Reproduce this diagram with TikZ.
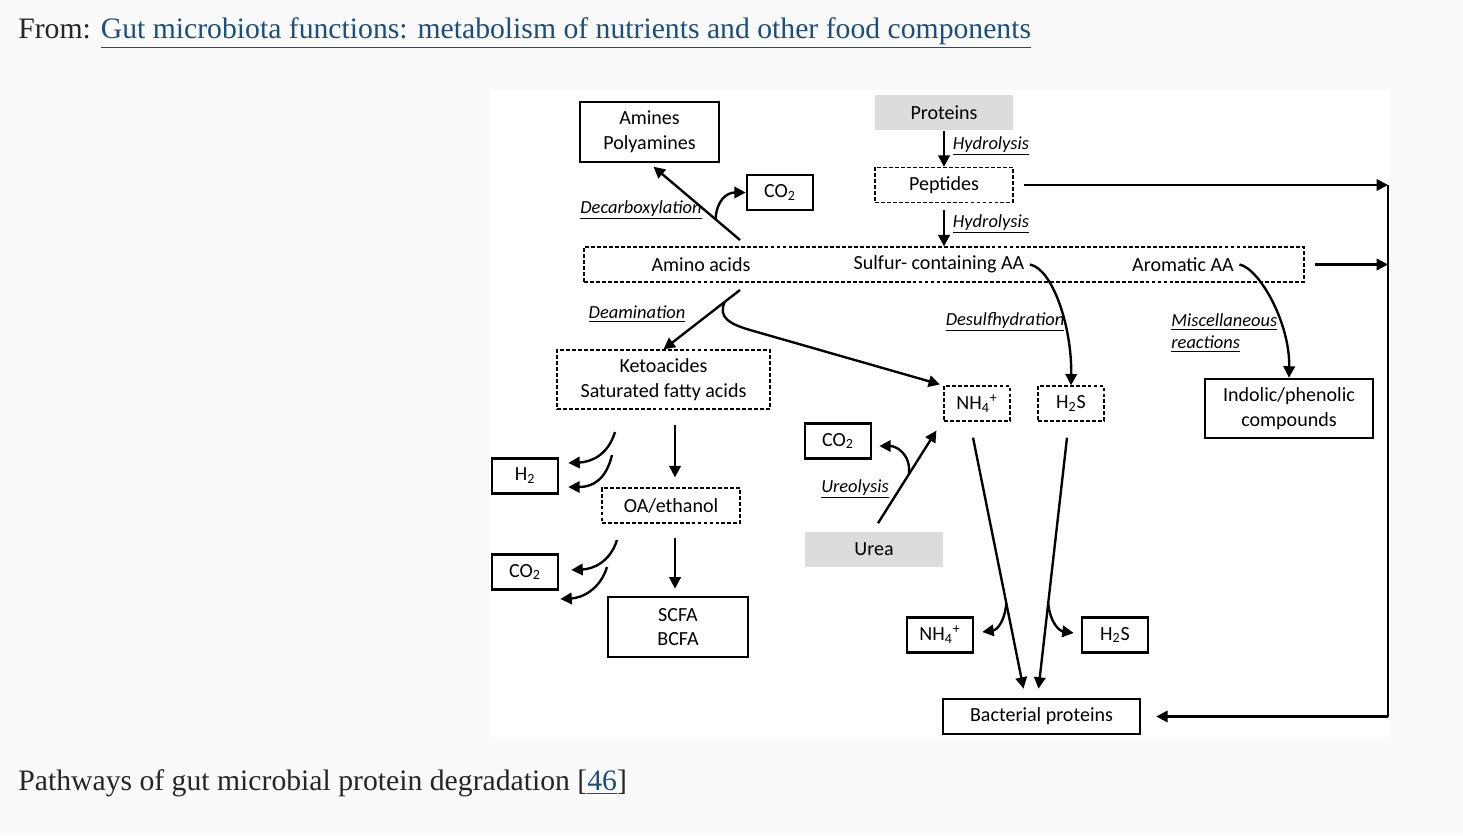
\documentclass[tikz,border=0pt]{standalone}
\usepackage{fontspec}
\setmainfont{Liberation Serif}
\newfontfamily\diagfont{Carlito}
\usetikzlibrary{arrows.meta,calc,positioning}
\definecolor{linkblue}{HTML}{1F4E79}
\definecolor{pagegray}{HTML}{FAFAFA}
\definecolor{boxgray}{HTML}{DCDCDC}

\begin{document}
\begin{tikzpicture}[x=0.02cm,y=-0.02cm,
  box/.style={draw,line width=1.5pt,inner sep=0pt,align=center,
    font=\diagfont\fontsize{11.4}{14}\selectfont},
  solidbox/.style={box},
  dashbox/.style={box,line width=0.7pt,dash pattern=on 2.2pt off 1.2pt},
  greybox/.style={box,draw=none,fill=boxgray},
  unitsz/.style={minimum width=1.32cm,minimum height=0.7cm},
  widesz/.style={minimum width=2.76cm,minimum height=0.7cm},
  txt/.style={inner sep=0pt,font=\diagfont\fontsize{11.4}{14}\selectfont},
  rxn/.style={inner sep=0pt,font=\diagfont\itshape\fontsize{10.5}{12.5}\selectfont},
  arr/.style={line width=1.35pt,-{Triangle[length=6.5pt,width=6.5pt]}},
  ]
% page and figure background
\fill[pagegray] (0,0) rectangle (1463,835);
\fill[white] (490,90) rectangle (1390,738);
\useasboundingbox (0,0) rectangle (1463,835);

% header and caption
\node[anchor=west,inner sep=0pt,font=\fontsize{16.9}{19}\selectfont,text=black!85] (title) at (18,33)
  {From: \textcolor{linkblue}{\underline{Gut microbiota functions: metabolism of nutrients and other food components}}};
\node[anchor=west,inner sep=0pt,font=\fontsize{16.9}{19}\selectfont,text=black!85] (caption) at (18,783)
  {Pathways of gut microbial protein degradation [\textcolor{linkblue}{\underline{46}}]};

% boxes
\node[solidbox,minimum width=2.78cm,minimum height=1.2cm] (amines) at (649.5,132) {Amines\\Polyamines};
\node[solidbox,unitsz] (co2a) at (780,192.5) {CO\textsubscript{2}};
\node[greybox,widesz] (prot) at (944,112.5) {Proteins};
\node[dashbox,widesz] (pep) at (944,185) {Peptides};
\node[dashbox,minimum width=14.4cm,minimum height=0.7cm] (aa) at (944,264.5) {};
\node[txt] (amino) at (701,264.5) {Amino acids};
\node[txt] (sulf) at (939,264.5) {Sulfur- containing AA};
\node[txt] (arom) at (1183,264.5) {Aromatic AA};
\node[dashbox,minimum width=4.26cm,minimum height=1.18cm] (keto) at (663.5,379.5) {Ketoacides\\Saturated fatty acids};
\node[dashbox,unitsz] (nhd) at (977,403.5) {NH\textsubscript{4}\textsuperscript{+}};
\node[dashbox,unitsz] (hsd) at (1071,403.5) {H\textsubscript{2}S};
\node[solidbox,minimum width=3.36cm,minimum height=1.18cm] (indol) at (1289,408.5) {Indolic/phenolic\\compounds};
\node[solidbox,unitsz] (co2b) at (838,441) {CO\textsubscript{2}};
\node[solidbox,unitsz] (htwo) at (525,476) {H\textsubscript{2}};
\node[dashbox,widesz] (oa) at (671,505.5) {OA/ethanol};
\node[solidbox,unitsz] (co2c) at (525,572) {CO\textsubscript{2}};
\node[greybox,widesz] (urea) at (874,549) {Urea};
\node[solidbox,minimum width=2.8cm,minimum height=1.2cm] (scfa) at (678,627) {SCFA\\BCFA};
\node[solidbox,unitsz] (nhs) at (940,635) {NH\textsubscript{4}\textsuperscript{+}};
\node[solidbox,unitsz] (hss) at (1115,635) {H\textsubscript{2}S};
\node[solidbox,minimum width=3.94cm,minimum height=0.7cm] (bact) at (1041.5,716.5) {Bacterial proteins};

% reaction labels
\node[rxn] (hyd1) at (991,146) {\underline{Hydrolysis}};
\node[rxn] (hyd2) at (991,224) {\underline{Hydrolysis}};
\node[rxn] (decarb) at (641,210) {\underline{Decarboxylation}};
\node[rxn] (deam) at (637,314) {\underline{Deamination}};
\node[rxn] (desulf) at (1005,322) {\underline{Desulfhydration}};
\node[rxn,anchor=west,align=left] (misc) at (1171,333) {\underline{Miscellaneous}\\\underline{reactions}};
\node[rxn] (ureo) at (855,489) {\underline{Ureolysis}};

% free ends
\coordinate (rx) at (1388,0);
\coordinate (dcs) at (740,240);
\coordinate (dms) at (740,290);
\coordinate (dmk) at (750,330);
\coordinate (kx) at (675,0);
\coordinate (h1s) at (615,432);
\coordinate (h2s) at (612,455);
\coordinate (c1s) at (617,540);
\coordinate (c2s) at (607,567);

% hydrolysis
\draw[arr] (prot) -- (pep);
\draw[arr,shorten <=4pt] (pep) -- (aa);
\draw[arr,shorten <=6pt] (pep.east) -- (pep.east -| rx);
\draw[arr,shorten <=6pt] (aa.east) -- (aa.east -| rx);
\draw[line width=1.5pt] (pep.east -| rx) -- (bact.east -| rx);
\draw[arr,shorten >=8.5pt] (bact.east -| rx) -- (bact.east);

% decarboxylation and deamination
\draw[arr,shorten >=3pt] (dcs) -- (amines.south);
\draw[arr] ($(dcs)!0.27!(amines.south)$) .. controls +(1,-19) and +(-19,0) .. (co2a.west);
\draw[arr] (dms) -- (keto.north);
\draw[arr,shorten >=2pt] ($(dms)!0.2!(keto.north)$) .. controls +(-7,16) and +(-20,-6) .. (dmk) -- (nhd.north west);

% sulfur and aromatic AA
\draw[arr] ([xshift=3pt]sulf.east) .. controls +(22,4) and +(1,-60) .. (hsd.north);
\draw[arr] ([xshift=3pt]arom.east) .. controls +(20,4) and +(1,-55) .. (indol.north);

% fermentation chain
\draw[arr,shorten <=9pt,shorten >=5.7pt] (keto.south -| kx) -- (oa.north -| kx);
\draw[arr,shorten <=8pt,shorten >=4pt] (oa.south -| kx) -- (scfa.north -| kx);
\draw[arr] (h1s) .. controls +(-7,23) and +(23,-1) .. ($(htwo.east)+(9,-13)$);
\draw[arr] (h2s) .. controls +(-6,25) and +(24,0) .. ($(htwo.east)+(9,11)$);
\draw[arr] (c1s) .. controls +(-7,22) and +(22,-1) .. ($(co2c.east)+(12,-2)$);
\draw[arr] (c2s) .. controls +(-7,23) and +(21,-1) .. ($(co2c.east)+(1,27)$);

% ureolysis
\draw[arr] ($(urea.north)+(4,-7)$) coordinate (u1) -- ($(nhd.south west)+(-7,9)$) coordinate (u2);
\draw[arr] ($(u1)!0.53!(u2)$) .. controls +(2,-20) and +(17,0) .. ($(co2b.east)+(7,5)$);

% assimilation
\draw[arr] ($(nhd.south)+(-4,16)$) coordinate (n1) -- ($(bact.north)+(-18,-9)$) coordinate (n2);
\draw[arr] ($(n1)!0.66!(n2)$) .. controls +(-2,20) and +(14,-2) .. ($(nhs.east)+(8,-3)$);
\draw[arr] ($(hsd.south)+(-4,16)$) coordinate (s1) -- ($(bact.north)+(-3,-9)$) coordinate (s2);
\draw[arr] ($(s1)!0.66!(s2)$) .. controls +(2,20) and +(-14,-2) .. ($(hss.west)+(-7,-2)$);
\end{tikzpicture}
\end{document}
